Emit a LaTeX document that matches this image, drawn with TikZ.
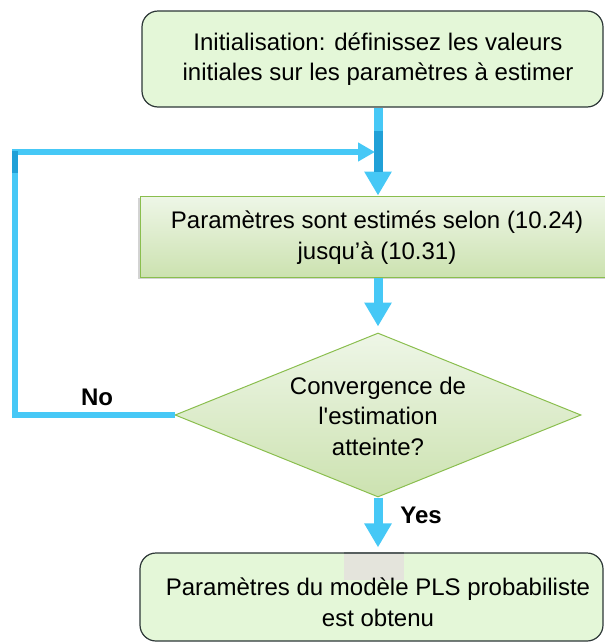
\documentclass[tikz,border=0pt]{standalone}
\usepackage{fontspec}
\setmainfont{Liberation Sans}
\usetikzlibrary{arrows.meta,shapes.geometric,shadows}
\definecolor{blueA}{RGB}{70,200,246}
\definecolor{blueB}{RGB}{32,160,215}
\definecolor{boxfill}{RGB}{228,247,216}
\definecolor{boxline}{RGB}{45,55,55}
\definecolor{gtop}{RGB}{238,246,231}
\definecolor{gbot}{RGB}{204,226,176}
\definecolor{gline}{RGB}{138,190,78}
\definecolor{patch}{RGB}{228,228,220}
\begin{document}
\begin{tikzpicture}[x=1pt,y=-1pt,
  txt/.style={font=\fontsize{24}{30.5}\selectfont, align=center, inner sep=0pt},
  roundbox/.style={draw=boxline, line width=1.2pt, fill=boxfill, rounded corners=16pt, inner sep=0pt},
  gradbox/.style={draw=gline, line width=1pt, top color=gtop, bottom color=gbot, inner sep=0pt},
  flow/.style={draw=blueA, line width=9pt, -{Triangle[width=26pt,length=24pt]}},
  loopline/.style={draw=blueA, line width=5.5pt, -{Triangle[width=18pt,length=17pt]}},
  lbl/.style={font=\fontsize{24}{26}\selectfont\bfseries}
]
\useasboundingbox (0,0) rectangle (605,643);

\node[roundbox, minimum width=461pt, minimum height=96pt,
  label={[txt, xshift=5.5pt]center:Initialisation: définissez les valeurs\\initiales sur les paramètres à estimer}]
  (init) at (372.5,59) {};

\node[gradbox, drop shadow={shadow xshift=-2pt, shadow yshift=-2pt, opacity=0.35, fill=gray},
  minimum width=474pt, minimum height=81pt,
  label={[txt, yshift=-1pt]center:Paramètres sont estimés selon (10.24)\\jusqu’à (10.31)}]
  (est) at (377,236.5) {};

\node[diamond, gradbox, minimum width=406pt, minimum height=164pt,
  label={[txt, yshift=-1pt]center:Convergence de\\l\textquotesingle estimation\\atteinte?}]
  (dec) at (378,415) {};

\node[roundbox, minimum width=463pt, minimum height=88pt] (res) at (371.5,597) {};

\fill[patch] (344,554) rectangle (404,580);
\draw[boxline!80, line width=1.5pt] (344,553) -- (404,553);

\node[txt] (resT) at (378,602.5) {Paramètres du modèle PLS probabiliste\\est obtenu};

\coordinate (topA) at (init.south -| dec.north);
\coordinate (lx) at (15,152);
\coordinate (lend) at (375,152);

\draw[flow] (topA) -- (est.north -| dec.north);
\draw[blueB, line width=9pt] ([yshift=-23pt]topA) -- ([yshift=-64pt]topA);
\draw[flow, shorten >=6pt] (est.south -| dec.north) -- (dec.north);
\draw[flow, shorten >=5pt] (dec.south) -- (res.north -| dec.south);

\draw[loopline] (dec.west) -- (dec.west -| lx) -- (lx) -- (lend);
\draw[blueB, line width=5.5pt] ([yshift=1pt]lx) -- ([yshift=-21pt]lx);

\node[lbl] (no) at (97,397) {No};
\node[lbl] (yes) at (421,515) {Yes};
\end{tikzpicture}
\end{document}
